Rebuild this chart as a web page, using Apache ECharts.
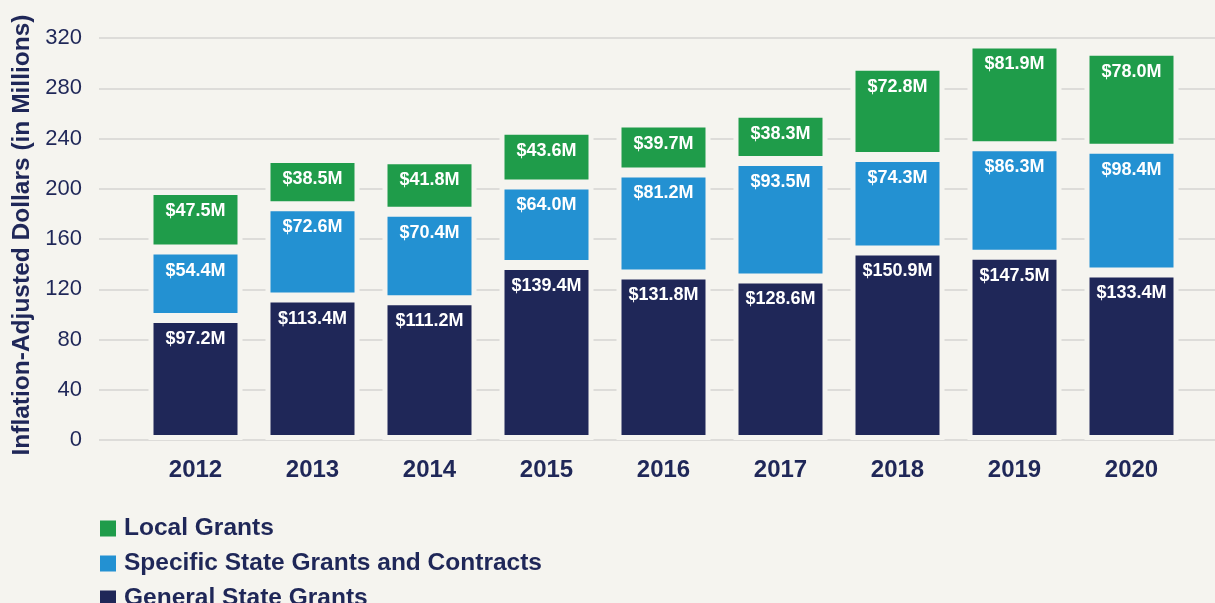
<!DOCTYPE html>
<html>
<head>
<meta charset="utf-8">
<script src="https://cdn.jsdelivr.net/npm/echarts@6/dist/echarts.min.js"></script>
<style>
  html, body { margin: 0; padding: 0; background: #f5f4ef; }
  #chart { width: 1215px; height: 603px; }
</style>
</head>
<body>
<div id="chart"></div>
<script>
const years = ['2012', '2013', '2014', '2015', '2016', '2017', '2018', '2019', '2020']
const generalState = [97.2, 113.4, 111.2, 139.4, 131.8, 128.6, 150.9, 147.5, 133.4]
const specificState = [54.4, 72.6, 70.4, 64.0, 81.2, 93.5, 74.3, 86.3, 98.4]
const localGrants = [47.5, 38.5, 41.8, 43.6, 39.7, 38.3, 72.8, 81.9, 78.0]

const navy = '#1f2758'
const bg = '#f5f4ef'
const font = '"Liberation Sans", Arial, Helvetica, sans-serif'

// bg-coloured border makes the little gap between stacked pieces
const barStyle = (color) => ({ color, borderColor: bg, borderWidth: 5 })
const barLabel = {
  show: true,
  position: 'insideTop',
  distance: 12,
  color: '#fff',
  fontFamily: font,
  fontWeight: 'bold',
  fontSize: 18,
  formatter: (p) => '$' + p.value.toFixed(1) + 'M'
}

const chart = echarts.init(document.getElementById('chart'))

chart.setOption({
  backgroundColor: bg,
  animation: false,
  textStyle: { fontFamily: font },
  legend: {
    orient: 'vertical',
    left: 100,
    top: 516,
    height: 120,
    padding: 0,
    itemWidth: 16,
    itemHeight: 16,
    itemGap: 10,
    itemTextGap: 8,
    icon: 'rect',
    itemStyle: { borderWidth: 0 },
    textStyle: { color: navy, fontWeight: 'bold', fontSize: 24.5, fontFamily: font, padding: [0, 0, 0, 3] },
    data: ['Local Grants', 'Specific State Grants and Contracts', 'General State Grants']
  },
  grid: [
    { left: 99, right: 0, top: 38, bottom: 163 },
    { left: 137, right: 25, top: 38, bottom: 163 }
  ],
  xAxis: [
    { gridIndex: 0, type: 'value', show: false, min: 0, max: 1 },
    {
      gridIndex: 1,
      type: 'category',
      data: years,
      axisLine: { show: false },
      axisTick: { show: false },
      axisLabel: { color: navy, fontWeight: 'bold', fontSize: 24, margin: 18, fontFamily: font }
    }
  ],
  yAxis: [
    {
      gridIndex: 0,
      type: 'value',
      min: 0,
      max: 320,
      interval: 40,
      name: 'Inflation-Adjusted Dollars (in Millions)',
      nameLocation: 'middle',
      nameGap: 64,
      nameTextStyle: { color: navy, fontWeight: 'bold', fontSize: 24.5, fontFamily: font, padding: [0, 0, 0, 8] },
      axisLine: { show: false },
      axisTick: { show: false },
      axisLabel: { color: navy, fontSize: 22, margin: 17, fontFamily: font },
      splitLine: { lineStyle: { color: '#d4d4d2', width: 1.5 } }
    },
    { gridIndex: 1, type: 'value', min: 0, max: 320, show: false }
  ],
  series: [
    {
      name: 'General State Grants',
      type: 'bar',
      stack: 'total',
      xAxisIndex: 1,
      yAxisIndex: 1,
      barWidth: 94,
      data: generalState,
      itemStyle: barStyle(navy),
      label: barLabel
    },
    {
      name: 'Specific State Grants and Contracts',
      type: 'bar',
      stack: 'total',
      xAxisIndex: 1,
      yAxisIndex: 1,
      barWidth: 94,
      data: specificState,
      itemStyle: barStyle('#2391d2'),
      label: barLabel
    },
    {
      name: 'Local Grants',
      type: 'bar',
      stack: 'total',
      xAxisIndex: 1,
      yAxisIndex: 1,
      barWidth: 94,
      data: localGrants,
      itemStyle: barStyle('#1f9c4a'),
      label: barLabel
    }
  ]
})
</script>
</body>
</html>
